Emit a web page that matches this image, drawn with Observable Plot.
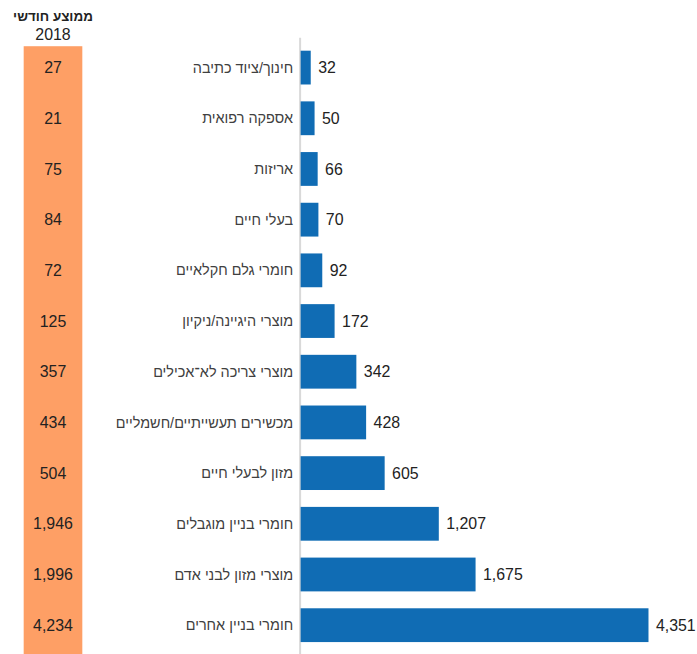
<!DOCTYPE html>
<html>
<head>
<meta charset="utf-8">
<script src="https://cdn.jsdelivr.net/npm/d3@7"></script>
<script src="https://cdn.jsdelivr.net/npm/@observablehq/plot@0.6"></script>
<style>
  html, body { margin: 0; padding: 0; background: #fff; overflow: hidden; }
  #wrap { display: flex; flex-direction: row; width: 697px; height: 654px; overflow: hidden; }
  svg { overflow: visible; }
</style>
</head>
<body>
<div id="wrap"></div>
<script>
const categories = [
  "חינוך/ציוד כתיבה",
  "אספקה רפואית",
  "אריזות",
  "בעלי חיים",
  "חומרי גלם חקלאיים",
  "מוצרי היגיינה/ניקיון",
  "מוצרי צריכה לא־אכילים",
  "מכשירים תעשייתיים/חשמליים",
  "מזון לבעלי חיים",
  "חומרי בניין מוגבלים",
  "מוצרי מזון לבני אדם",
  "חומרי בניין אחרים"
];
const barValues = [32, 50, 66, 70, 92, 172, 342, 428, 605, 1207, 1675, 4351];
const monthlyAvg2018 = [27, 21, 75, 84, 72, 125, 357, 434, 504, 1946, 1996, 4234];
const headerTitle = ["ממוצע חודשי"];
const headerYear = ["2018"];

const rows = categories.map((c, i) => ({category: c, value: barValues[i], avg: monthlyAvg2018[i]}));
const fmt = d3.format(",");
const FONT = "'Liberation Sans', Arial, sans-serif";
const H = 658;
const yScale = {domain: categories, paddingInner: 0.34, paddingOuter: 0.19};

const left = Plot.plot({
  width: 105, height: H,
  marginLeft: 23, marginRight: 23, marginTop: 38, marginBottom: 0,
  style: {fontFamily: FONT, background: "transparent"},
  y: {...yScale, axis: null},
  marks: [
    Plot.frame({fill: "#fe9f65", stroke: "none", insetTop: 8}),
    Plot.text(rows, {y: "category", text: d => fmt(d.avg), frameAnchor: "middle", fontSize: 16, fill: "#222"}),
    Plot.text(headerTitle, {text: d => d, frameAnchor: "top", dy: -27, fontSize: 13.5, fontWeight: "bold", fill: "#222"}),
    Plot.text(headerYear, {text: d => d, frameAnchor: "top", dy: -10, fontSize: 16, fill: "#222"})
  ]
});

const main = Plot.plot({
  width: 592, height: H,
  marginLeft: 195, marginRight: 47, marginTop: 38, marginBottom: 0,
  style: {fontFamily: FONT, background: "transparent"},
  x: {type: "pow", exponent: 0.72, domain: [0, 4351], axis: null},
  y: {...yScale, label: null},
  marks: [
    Plot.ruleX([0], {stroke: "#d9d9d9", strokeWidth: 2, dx: -1}),
    Plot.barX(rows, {y: "category", x: "value", fill: "#106cb4"}),
    Plot.text(rows, {y: "category", x: "value", text: d => fmt(d.value), textAnchor: "start", dx: 7, fontSize: 16, fill: "#222"}),
    Plot.axisY({tickSize: 0, tickPadding: 8, fontSize: 14.5, fill: "#404040", label: null})
  ]
});

const wrap = document.getElementById("wrap");
wrap.appendChild(left);
wrap.appendChild(main);
</script>
</body>
</html>
